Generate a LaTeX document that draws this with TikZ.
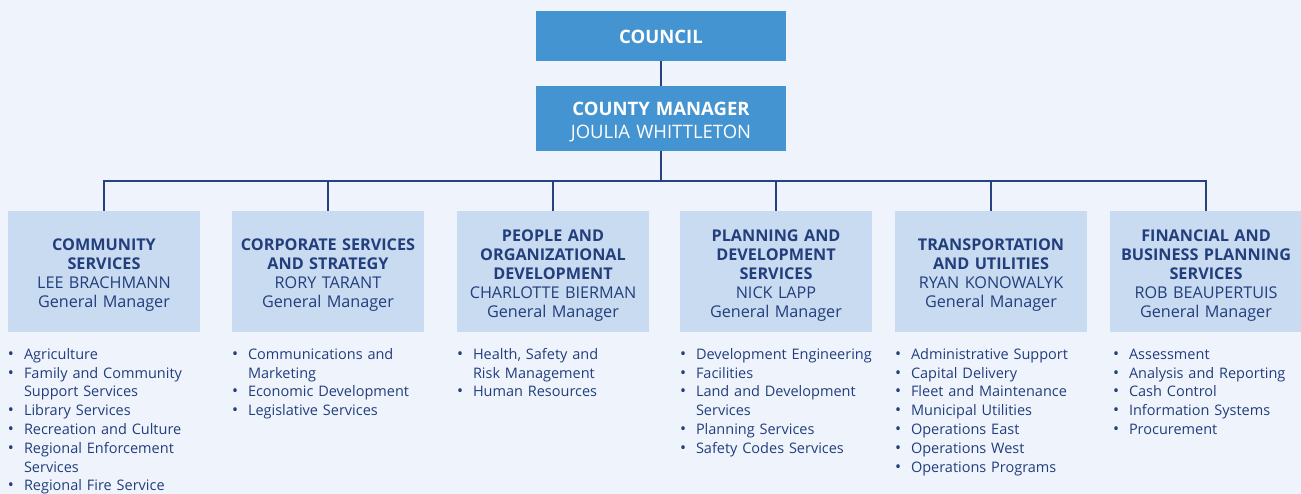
\documentclass[tikz,border=0pt]{standalone}
\usepackage{fontspec}
\setmainfont{Open Sans}
\usepackage{xcolor}
\usetikzlibrary{positioning}
\definecolor{pagebg}{RGB}{239,244,252}
\definecolor{topblue}{RGB}{69,148,210}
\definecolor{deptblue}{RGB}{201,219,240}
\definecolor{inkblue}{RGB}{34,62,125}
\definecolor{linkblue}{RGB}{38,66,130}

\newcommand{\unititem}[1]{\par\hangindent=14pt\hangafter=1\noindent\makebox[14pt][l]{\hspace{-2pt}\raisebox{0pt}{\fontsize{16}{16}\selectfont\textbullet}}#1}

\tikzset{
  topbox/.style={fill=topblue,text=white,minimum width=250pt,minimum height=50pt,text width=246pt,align=center,inner sep=0pt,font=\fontsize{18.5}{23}\selectfont},
  deptbox/.style={fill=deptblue,text=inkblue,minimum width=192pt,minimum height=121pt,text width=190pt,align=center,inner sep=0pt,font=\fontsize{16.2}{19}\selectfont,execute at begin node={\rule{0pt}{19.6pt}}},
  unitlist/.style={text=inkblue,text width=190pt,align=left,inner sep=0pt,font=\fontsize{14.5}{18.8}\selectfont},
  link/.style={draw=linkblue,line width=1.6pt}
}

\begin{document}
\begin{tikzpicture}[x=1pt,y=-1pt]
            \fill[pagebg] (0,0) rectangle (1301,494);
            \useasboundingbox (0,0) rectangle (1301,494);

            \node[topbox,execute at begin node={\rule{0pt}{15.2pt}}] (council) at (661,36) {\bfseries COUNCIL};
            \node[topbox,minimum height=65pt,execute at begin node={\rule{0pt}{21.2pt}}] (manager) at (661,118.5) {{\bfseries COUNTY MANAGER}\\JOULIA WHITTLETON};

            \node[deptbox] (d1) at (104,271.5) {{\bfseries COMMUNITY\\SERVICES}\\LEE BRACHMANN\\General Manager};
            \node[deptbox] (d2) at (328,271.5) {{\bfseries CORPORATE SERVICES\\AND STRATEGY}\\RORY TARANT\\General Manager};
            \node[deptbox] (d3) at (553,271.5) {{\bfseries PEOPLE AND\\ORGANIZATIONAL\\DEVELOPMENT}\\CHARLOTTE BIERMAN\\General Manager};
            \node[deptbox] (d4) at (776,271.5) {{\bfseries PLANNING AND\\DEVELOPMENT\\SERVICES}\\NICK LAPP\\General Manager};
            \node[deptbox] (d5) at (991,271.5) {{\bfseries TRANSPORTATION\\AND UTILITIES}\\RYAN KONOWALYK\\General Manager};
            \node[deptbox] (d6) at (1206,271.5) {{\bfseries FINANCIAL AND\\BUSINESS PLANNING\\SERVICES}\\ROB BEAUPERTUIS\\General Manager};

            \node[unitlist,below right=8pt and 2pt of d1.south west] (l1) {\unititem{Agriculture}\unititem{Family and Community\newline Support Services}\unititem{Library Services}\unititem{Recreation and Culture}\unititem{Regional Enforcement\newline Services}\unititem{Regional Fire Service}};
            \node[unitlist,below right=8pt and 2pt of d2.south west] (l2) {\unititem{Communications and\newline Marketing}\unititem{Economic Development}\unititem{Legislative Services}};
            \node[unitlist,below right=8pt and 2pt of d3.south west] (l3) {\unititem{Health, Safety and\newline Risk Management}\unititem{Human Resources}};
            \node[unitlist,below right=8pt and 2pt of d4.south west] (l4) {\unititem{Development Engineering}\unititem{Facilities}\unititem{Land and Development\newline Services}\unititem{Planning Services}\unititem{Safety Codes Services}};
            \node[unitlist,below right=8pt and 2pt of d5.south west] (l5) {\unititem{Administrative Support}\unititem{Capital Delivery}\unititem{Fleet and Maintenance}\unititem{Municipal Utilities}\unititem{Operations East}\unititem{Operations West}\unititem{Operations Programs}};
            \node[unitlist,below right=8pt and 5pt of d6.south west] (l6) {\unititem{Assessment}\unititem{Analysis and Reporting}\unititem{Cash Control}\unititem{Information Systems}\unititem{Procurement}};

            % reporting lines
            \coordinate (bus) at (661,181);
            \draw[link] (council) -- (manager);
            \draw[link] (manager) -- (bus);
            \foreach \i in {1,...,6}
              \draw[link] (bus) -| (d\i);
\end{tikzpicture}
\end{document}
